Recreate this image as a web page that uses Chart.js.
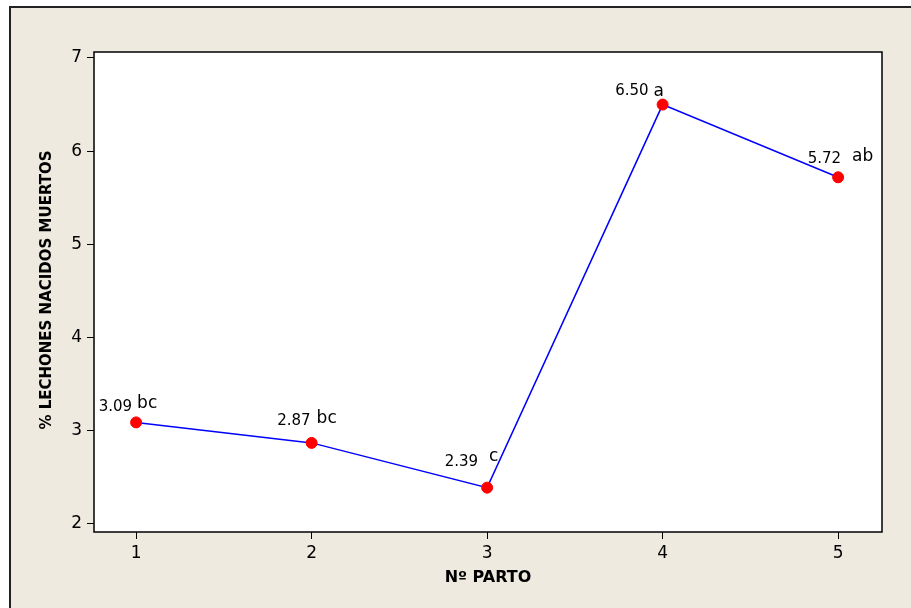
<!DOCTYPE html>
<html lang="es">
<head>
<meta charset="UTF-8">
<title>% lechones nacidos muertos por parto</title>
<script src="https://cdn.jsdelivr.net/npm/chart.js@4.4.1/dist/chart.umd.min.js"></script>
<style>
  html, body { margin: 0; padding: 0; background: #fff; }
  #wrap { width: 911px; height: 608px; }
</style>
</head>
<body>
<div id="wrap"><canvas id="chart" width="911" height="608"></canvas></div>
<script>
const partos = [1, 2, 3, 4, 5];
const porcentajes = [3.09, 2.87, 2.39, 6.50, 5.72];
const letras = ['bc', 'bc', 'c', 'a', 'ab'];
const xTicks = [1, 2, 3, 4, 5];
const yTicks = [2, 3, 4, 5, 6, 7];

// nudges for the value / letter labels, [dx, dy] from the point
const valueNudge = [[-4, -15], [-1, -22], [-9, -26], [-14, -13], [3, -18]];
const letterNudge = [[1, -19], [5, -24], [2, -31], [-9, -13], [14, -21]];

const BEIGE = '#EEEAE0';
const FONT = "'DejaVu Sans', Verdana, sans-serif";

const framePlugin = {
  id: 'frame',
  beforeDraw(chart) {
    const c = chart.ctx;
    const a = chart.chartArea;
    c.save();
    c.fillStyle = '#ffffff';
    c.fillRect(0, 0, chart.width, chart.height);
    c.fillStyle = BEIGE;
    c.fillRect(10, 7, chart.width, chart.height);
    c.strokeStyle = '#222';
    c.lineWidth = 2;
    c.strokeRect(10, 7, chart.width + 10, chart.height + 10);
    c.fillStyle = '#ffffff';
    c.fillRect(a.left, a.top, a.right - a.left, a.bottom - a.top);
    c.restore();
  },
  afterDatasetsDraw(chart) {
    const c = chart.ctx;
    const a = chart.chartArea;
    c.save();
    c.strokeStyle = '#000';
    c.lineWidth = 1.5;
    c.strokeRect(a.left, a.top, a.right - a.left, a.bottom - a.top);

    // axis titles
    c.fillStyle = '#000';
    c.textAlign = 'center';
    c.textBaseline = 'middle';
    c.font = 'bold 16px ' + FONT;
    c.fillText('Nº PARTO', (a.left + a.right) / 2 + 0, 578);
    c.font = 'bold 15px ' + FONT;
    c.translate(47, 290);
    c.rotate(-Math.PI / 2);
    c.fillText('% LECHONES NACIDOS MUERTOS', 0, 0);
    c.restore();

    // point labels
    const meta = chart.getDatasetMeta(0);
    c.save();
    c.fillStyle = '#000';
    c.textBaseline = 'middle';
    meta.data.forEach((pt, i) => {
      c.font = '15px ' + FONT;
      c.textAlign = 'right';
      c.fillText(porcentajes[i].toFixed(2), pt.x + valueNudge[i][0], pt.y + valueNudge[i][1]);
      c.font = '17px ' + FONT;
      c.textAlign = 'left';
      c.fillText(letras[i], pt.x + letterNudge[i][0], pt.y + letterNudge[i][1]);
    });
    c.restore();
  }
};

const ctx = document.getElementById('chart').getContext('2d');
new Chart(ctx, {
  type: 'line',
  data: {
    datasets: [{
      data: partos.map((p, i) => ({ x: p, y: porcentajes[i] })),
      borderColor: '#0000FF',
      borderWidth: 1.5,
      pointBackgroundColor: '#FF0000',
      pointBorderColor: '#FF0000',
      pointRadius: 5.5,
      pointBorderWidth: 1,
      tension: 0,
      fill: false
    }]
  },
  options: {
    responsive: false,
    animation: false,
    layout: { padding: { left: 0, top: 52, right: 29, bottom: 0 } },
    plugins: { legend: { display: false }, tooltip: { enabled: false } },
    scales: {
      x: {
        type: 'linear',
        min: 0.76,
        max: 5.25,
        afterBuildTicks: s => { s.ticks = xTicks.map(v => ({ value: v })); },
        afterFit: s => { s.height = 76; },
        grid: { display: true, drawOnChartArea: false, tickLength: 7, color: '#000', lineWidth: 1 },
        border: { display: false },
        ticks: { color: '#000', font: { family: FONT, size: 17 }, padding: 4, maxRotation: 0 }
      },
      y: {
        type: 'linear',
        min: 1.914,
        max: 7.064,
        afterBuildTicks: s => { s.ticks = yTicks.map(v => ({ value: v })); },
        afterFit: s => { s.width = 94; },
        grid: { display: true, drawOnChartArea: false, tickLength: 7, color: '#000', lineWidth: 1 },
        border: { display: false },
        ticks: { color: '#000', font: { family: FONT, size: 17 }, padding: 5 }
      }
    }
  },
  plugins: [framePlugin]
});
</script>
</body>
</html>
